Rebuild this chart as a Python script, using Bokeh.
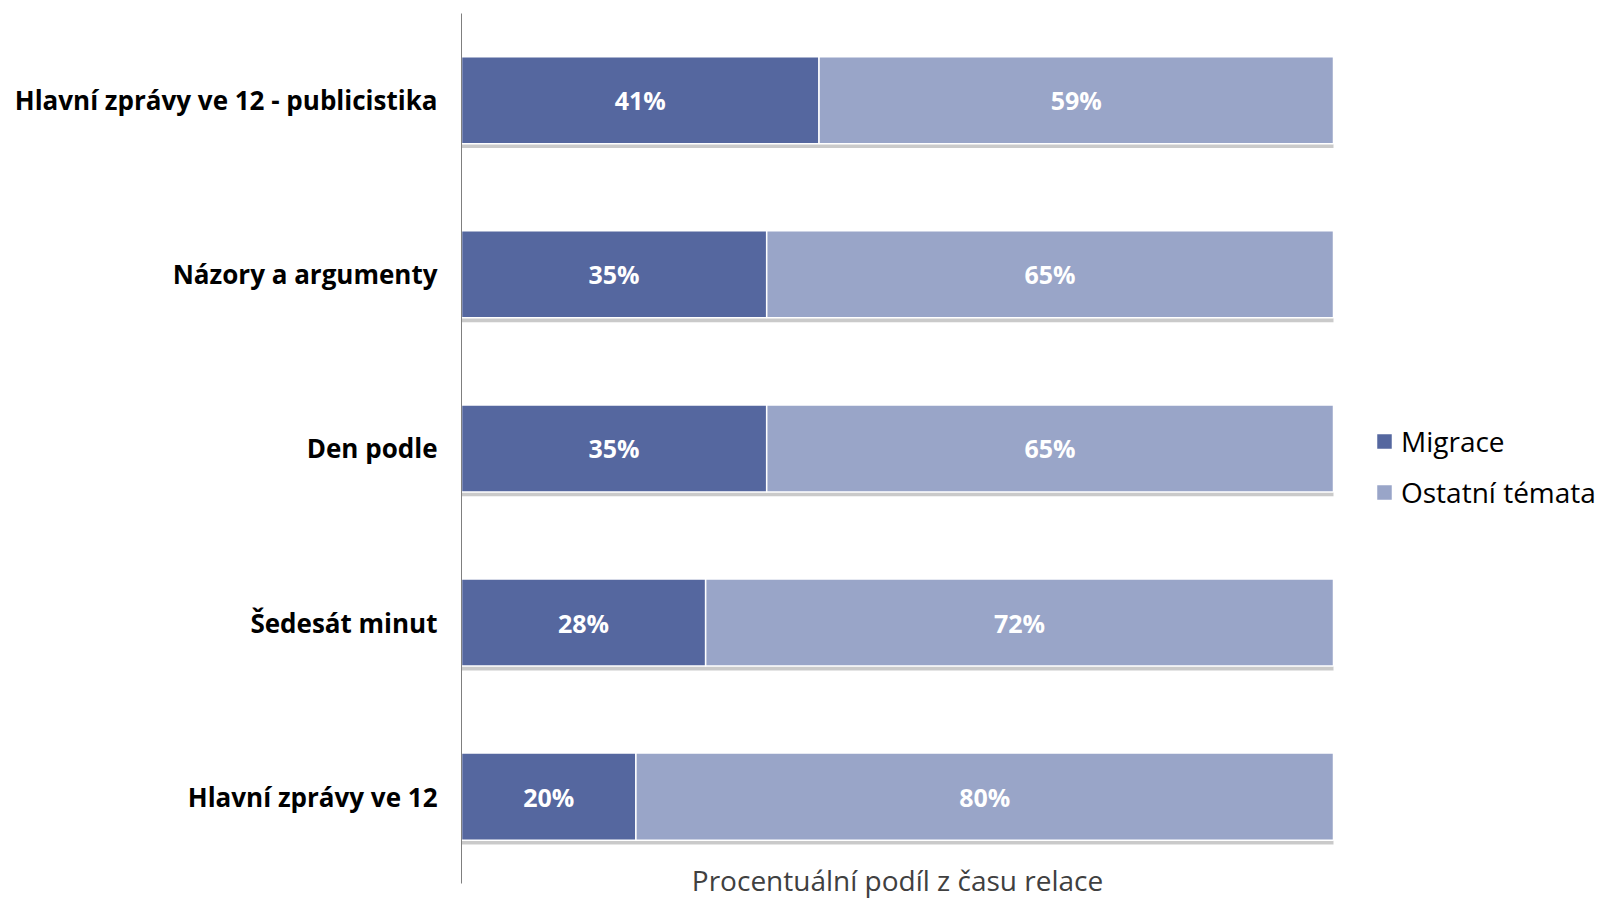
from bokeh.plotting import figure
from bokeh.models import ColumnDataSource, Range1d, FixedTicker, LabelSet, Legend, LegendItem, Label
from bokeh.core.properties import value
from bokeh.embed import file_html
from bokeh.resources import INLINE

categories = ["Hlavní zprávy ve 12 - publicistika", "Názory a argumenty", "Den podle",
              "Šedesát minut", "Hlavní zprávy ve 12"]
migrace = [41, 35, 35, 28, 20]
ostatni = [59, 65, 65, 72, 80]
series_names = ["Migrace", "Ostatní témata"]
x_label = "Procentuální podíl z času relace"

DARK = "#55679f"
LIGHT = "#99a5c8"
FONT = "Open Sans"

n = len(categories)
ypos = [n - 1 - i for i in range(n)]          # first category on top
left_m = [0] * n
right_m = migrace
left_o = migrace
right_o = [m + o for m, o in zip(migrace, ostatni)]
src = ColumnDataSource(dict(
    y=ypos, ys=[v - 0.025 for v in ypos], cat=categories,
    lm=left_m, rm=right_m, lo=left_o, ro=right_o,
    mid_m=[(a + b) / 2 for a, b in zip(left_m, right_m)],
    mid_o=[(a + b) / 2 for a, b in zip(left_o, right_o)],
    lab_m=[f"{v}%" for v in migrace],
    lab_o=[f"{v}%" for v in ostatni],
))

W, H = 1596, 901
FRAME_LEFT = 461
FRAME_TOP = 12
FRAME_BOTTOM = 899
BAR_PX = 872        # pixels for 100 %
ROW_PX = 174.1      # pixels per category row
TOP_PAD = 87.7      # px from frame top to first row centre
frame_w = W - FRAME_LEFT
y_end = (n - 1) + TOP_PAD / ROW_PX
y_start = y_end - (FRAME_BOTTOM - FRAME_TOP) / ROW_PX

p = figure(width=W, height=H, output_backend="svg", toolbar_location=None,
           y_range=Range1d(y_start, y_end),
           x_range=Range1d(0, 100 * frame_w / BAR_PX), x_axis_location=None,
           min_border_left=FRAME_LEFT, min_border_right=0, min_border_top=FRAME_TOP,
           min_border_bottom=H - FRAME_BOTTOM)
p.outline_line_color = None
p.grid.visible = False
p.background_fill_color = "white"
p.border_fill_color = "white"

# shadows
p.hbar(y="ys", left="lm", right="ro", height=0.5, source=src,
       fill_color="#8a8a8a", fill_alpha=0.45, line_color=None)

r1 = p.hbar(y="y", left="lm", right="rm", height=0.5, source=src,
            fill_color=DARK, line_color="white", line_width=1.5)
r2 = p.hbar(y="y", left="lo", right="ro", height=0.5, source=src,
            fill_color=LIGHT, line_color="white", line_width=1.5)

for xcol, tcol in (("mid_m", "lab_m"), ("mid_o", "lab_o")):
    p.add_layout(LabelSet(x=xcol, y="y", text=tcol, source=src, text_color="white",
                          text_font=value(FONT), text_font_style="bold", text_font_size="25px",
                          text_align="center", text_baseline="middle"))

ya = p.yaxis[0]
ya.ticker = FixedTicker(ticks=ypos)
ya.major_label_overrides = {y: c for y, c in zip(ypos, categories)}
ya.bounds = (-0.5, n - 0.5)
ya.axis_line_color = "#7f7f7f"
ya.axis_line_width = 1
ya.major_tick_line_color = None
ya.minor_tick_line_color = None
ya.major_label_text_font = FONT
ya.major_label_text_font_style = "bold"
ya.major_label_text_font_size = "26px"
ya.major_label_text_color = "black"
ya.major_label_standoff = 18

# x-axis title, centred under the 0–100 % bars
p.add_layout(Label(x=50, y=1, y_units="screen", text=x_label, text_align="center",
                   text_baseline="bottom", text_font=FONT, text_font_size="28px",
                   text_color="#404040"))

legend = Legend(items=[LegendItem(label=series_names[0], renderers=[r1]),
                       LegendItem(label=series_names[1], renderers=[r2])],
                location=(913, 388), padding=0, margin=0, spacing=13,
                glyph_width=20, glyph_height=20, label_standoff=7,
                label_text_font=FONT, label_text_font_size="28px",
                label_text_color="black", border_line_color=None,
                background_fill_alpha=0)
p.add_layout(legend)

open("out.html", "w").write(file_html(p, INLINE))
